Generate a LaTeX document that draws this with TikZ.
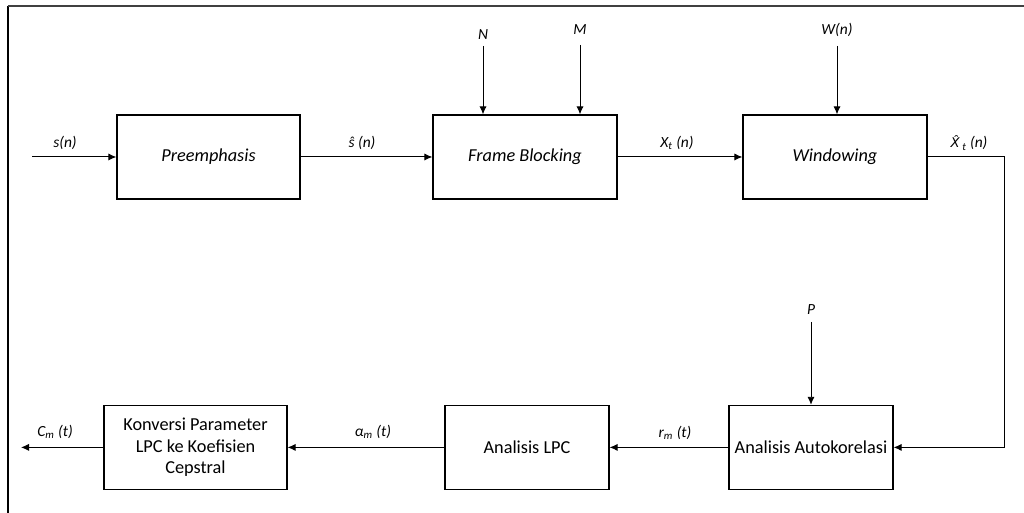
\documentclass[tikz,border=0pt]{standalone}
\usepackage{fontspec}
\setmainfont{Carlito}
\newfontfamily\dejavu{DejaVu Sans}[Scale=0.86]
\usetikzlibrary{arrows.meta}

\begin{document}
\begin{tikzpicture}[>={Latex[length=2mm,width=1.8mm]},line width=0.7pt,
  blok/.style={draw,line width=0.9pt,minimum height=2.1cm,align=center,
    font=\fontsize{13}{15.5}\selectfont},
  sinyal/.style={font=\fontsize{11}{13}\selectfont\itshape}]
\useasboundingbox (0,0) rectangle (25.6,12.825);
% bingkai
\draw[line width=1pt] (0.2,0) -- (0.2,12.675);
\draw[line width=1.3pt,black!75] (0.2,12.675) -- (25.6,12.675);
% blok baris atas
\node[blok,minimum width=4.575cm,font=\fontsize{13}{15.5}\selectfont\itshape] (pre) at (5.2125,8.9) {Preemphasis};
\node[blok,minimum width=4.6cm,font=\fontsize{13}{15.5}\selectfont\itshape] (fb) at (13.125,8.9) {Frame Blocking};
\node[blok,minimum width=4.6cm,font=\fontsize{13}{15.5}\selectfont\itshape] (win) at (20.875,8.9) {Windowing};
% blok baris bawah
\node[blok,minimum width=4.575cm] (konv) at (4.8875,1.64) {Konversi Parameter\\LPC ke Koefisien\\Cepstral};
\node[blok,minimum width=4.1cm] (lpc) at (13.175,1.64) {Analisis LPC};
\node[blok,minimum width=4.1cm] (auto) at (20.275,1.64) {Analisis Autokorelasi};
% titik bantu
\coordinate (masuk) at (0.8,8.9);
\coordinate (atasN) at (12.075,11.675);
\coordinate (atasM) at (14.5,11.7);
\coordinate (atasW) at (20.925,11.675);
\coordinate (atasP) at (20.275,4.775);
\coordinate (sudut) at (25.1,8.9);
\coordinate (keluar) at (0.525,1.64);
% panah
\draw[->] (masuk) -- (pre);
\draw[->] (pre) -- (fb);
\draw[->] (fb) -- (win);
\draw[->] (atasN) -- (atasN |- fb.north);
\draw[->] (atasM) -- (atasM |- fb.north);
\draw[->] (atasW) -- (atasW |- win.north);
\draw[->] (win.east) -- (sudut) -- (sudut |- auto.east) -- (auto.east);
\draw[->] (atasP) -- (auto.north);
\draw[->] (auto) -- (lpc);
\draw[->] (lpc) -- (konv);
\draw[->] (konv) -- (keluar);
% label sinyal
\node[sinyal] (ls) at (1.625,9.25) {s(n)};
\node[sinyal] (lsh) at (9.05,9.25) {\^{s} (n)};
\node[sinyal] (lx) at (16.925,9.25) {X\textsubscript{t} (n)};
\node[sinyal] (lxh) at (24.225,9.25) {{\dejavu X̂}\,\textsubscript{t} (n)};
\node[sinyal] (lN) at (12.075,11.95) {N};
\node[sinyal] (lM) at (14.5,12.075) {M};
\node[sinyal] (lW) at (20.925,12.075) {W(n)};
\node[sinyal] (lP) at (20.275,5.075) {P};
\node[sinyal] (lc) at (1.375,2.025) {C\textsubscript{m} (t)};
\node[sinyal] (la) at (9.325,2.025) {α\textsubscript{m} (t)};
\node[sinyal] (lr) at (16.875,2.0) {r\textsubscript{m} (t)};
\end{tikzpicture}
\end{document}
